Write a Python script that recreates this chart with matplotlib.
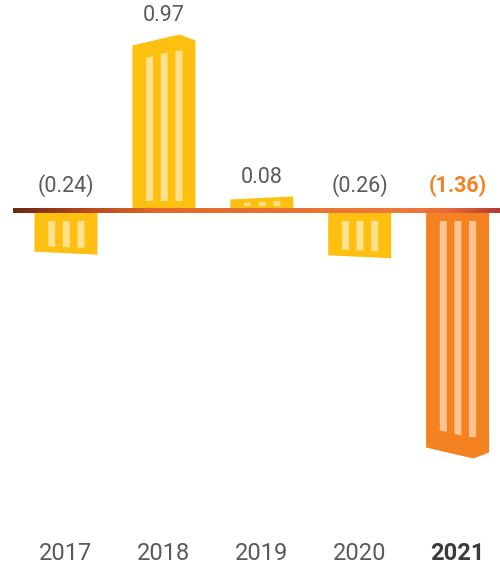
#!/usr/bin/env python3
# Building-style bar chart with gradient baseline.
import numpy as np
import matplotlib
matplotlib.use("Agg")  # headless
import matplotlib.pyplot as plt
from matplotlib.patches import Polygon
from matplotlib.colors import LinearSegmentedColormap

# data
years = ["2017", "2018", "2019", "2020", "2021"]
values = [-0.24, 0.97, 0.08, -0.26, -1.36]
labels = ["(0.24)", "0.97", "0.08", "(0.26)", "(1.36)"]
highlight = "2021"

YELLOW = "#FDBF10"
YELLOW_STRIPE = "#FFE08C"
ORANGE = "#F58220"
ORANGE_STRIPE = "#FBC495"
GREY = "#5A5A5A"
FONT = ["Roboto", "DejaVu Sans"]

W, H = 500, 569
XPX = 97.9   # px per category step
YPX = 182.0  # px per value unit
BASE = 211   # baseline, px from top
LEFT = 66    # centre of first bar, px

fig = plt.figure(figsize=(W / 100, H / 100), dpi=100)
ax = fig.add_axes([0, 0, 1, 1])
xlim = (-LEFT / XPX, (W - LEFT) / XPX)
ylim = (-(H - BASE) / YPX, BASE / YPX)
ax.axis("off")

bw = 63 / XPX
stripe_offsets = [13.7, 28.3, 43.0]  # px from bar's left edge
stripe_w = 7.0


def end_px(f, hp, big):
    # outer edge profile (px from baseline) at fraction f across the bar
    if big:
        if f <= 0.75:
            return hp - 11 + 11 * f / 0.75
        return hp - 6 * (f - 0.75) / 0.25
    return hp - 3 + 3 * f


for i, (yr, v, lab) in enumerate(zip(years, values, labels)):
    d = 1 if v >= 0 else -1
    hp = abs(v) * YPX
    big = hp > 100
    x0 = i - bw / 2
    hl = yr == highlight
    body_c = ORANGE if hl else YELLOW
    stripe_c = ORANGE_STRIPE if hl else YELLOW_STRIPE

    fr = [0, 0.75, 1] if big else [0, 1]
    pts = [(x0, 0)] + [(x0 + f * bw, d * end_px(f, hp, big) / YPX) for f in fr] + [(x0 + bw, 0)]
    ax.add_patch(Polygon(pts, closed=True, facecolor=body_c, edgecolor="none", zorder=2))

    inner = min(10, 0.35 * hp)
    outer = 3 + 0.07 * hp
    for off in stripe_offsets:
        f0, f1 = off / 63, (off + stripe_w) / 63
        sx0, sx1 = x0 + f0 * bw, x0 + f1 * bw
        spts = [(sx0, d * inner / YPX), (sx1, d * inner / YPX),
                (sx1, d * (end_px(f1, hp, big) - outer) / YPX),
                (sx0, d * (end_px(f0, hp, big) - outer) / YPX)]
        ax.add_patch(Polygon(spts, closed=True, facecolor=stripe_c, edgecolor="none", zorder=3))

    # value label
    if v >= 0:
        ax.text(i, (hp + 8) / YPX, lab, ha="center", va="bottom", fontsize=15.5,
                color=GREY, family=FONT)
    else:
        ax.text(i, 25 / YPX, lab, ha="center", va="center", fontsize=15.5,
                color=ORANGE if hl else GREY, family=FONT,
                fontweight="bold" if hl else "normal")

    # year label
    ax.text(i, 1 - 554 / H, yr, transform=ax.get_xaxis_transform(), ha="center", va="center",
            fontsize=17, color="#3A3A3A" if hl else GREY, family=FONT,
            fontweight="bold" if hl else "normal")

# gradient baseline
cmap = LinearSegmentedColormap.from_list("base", [
    (0.0, "#6A2812"), (0.15, "#B5481E"), (0.3, "#E06A2A"),
    (0.8, "#EE7A38"), (0.9, "#E8683C"), (1.0, "#B23A32")])
grad = np.linspace(0, 1, 512).reshape(1, -1)
ax.imshow(grad, cmap=cmap, aspect="auto", interpolation="bilinear", zorder=5,
          extent=[(13 - LEFT) / XPX, (W - LEFT) / XPX, -2.5 / YPX, 2.5 / YPX])
ax.set_xlim(*xlim)
ax.set_ylim(*ylim)

fig.savefig("out.png", dpi=100)
